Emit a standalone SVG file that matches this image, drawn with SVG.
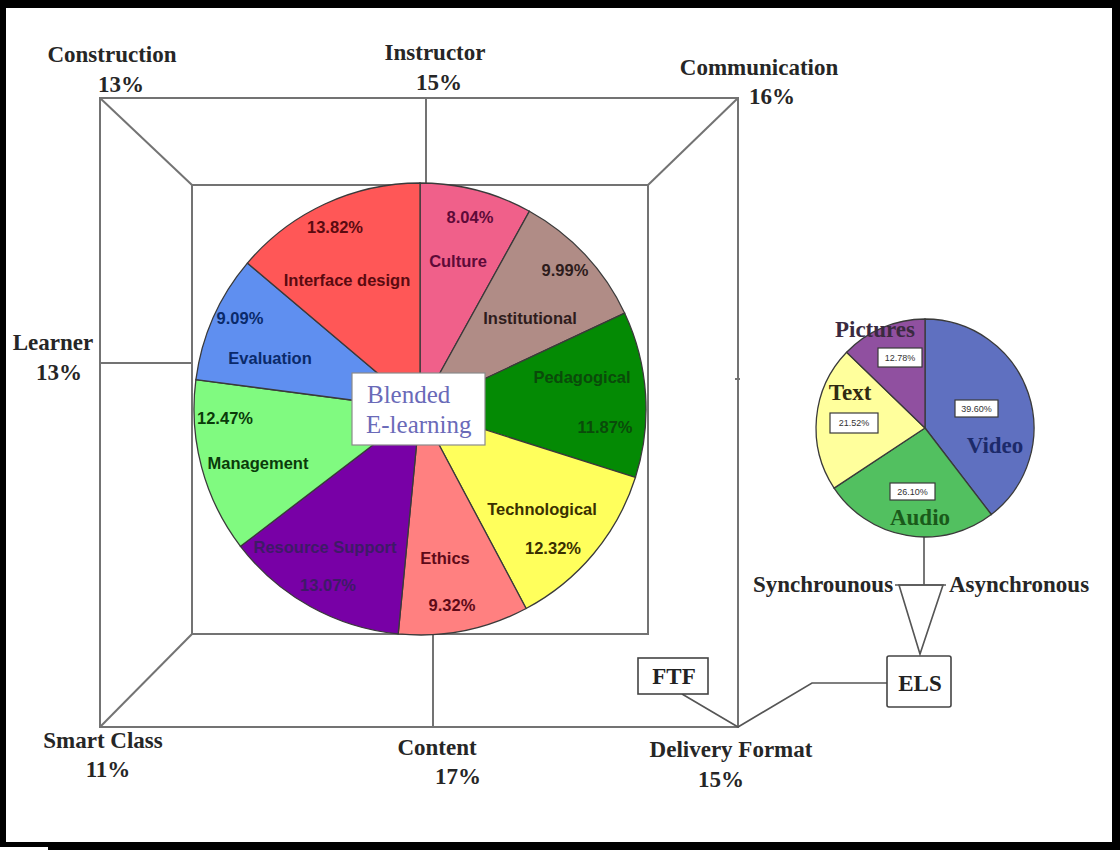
<svg xmlns="http://www.w3.org/2000/svg" width="1120" height="850" viewBox="0 0 1120 850">
  <style>
    .frame { stroke: #737373; stroke-width: 2; fill: none; }
    .conn { stroke: #555; stroke-width: 1.6; fill: none; }
    .outer { font-family: "Liberation Serif", "Times New Roman", serif; font-weight: bold; font-size: 23px; fill: #262626; text-anchor: middle; }
    .slice { stroke: #3a3a3a; stroke-width: 1.3; }
    .plabel { font-family: "Liberation Sans", Arial, sans-serif; font-weight: bold; font-size: 16.5px; text-anchor: middle; }
    .center-text { font-family: "Liberation Serif", "Times New Roman", serif; font-size: 25px; fill: #6a6ab8; }
    .media { font-family: "Liberation Serif", "Times New Roman", serif; font-weight: bold; font-size: 23px; text-anchor: middle; }
    .pct-box { fill: #ffffff; stroke: #3a3a3a; stroke-width: 1.2; }
    .pct { font-family: "Liberation Sans", Arial, sans-serif; font-size: 9px; fill: #333; text-anchor: middle; }
    .box { fill: #ffffff; stroke: #444; stroke-width: 1.6; }
    .boxtext { font-family: "Liberation Serif", "Times New Roman", serif; font-weight: bold; font-size: 23px; fill: #222; text-anchor: middle; }
  </style>

  <!-- black surround and white page -->
  <rect x="0" y="0" width="1120" height="850" fill="#000"/>
  <rect x="6" y="8" width="1106" height="834" fill="#fff"/>
  <rect x="0" y="847" width="48" height="3" fill="#fff"/>

  <!-- connectors: perspective frame and links -->
  <g id="connectors">
    <rect class="frame" x="100" y="98" width="638" height="629"/>
    <rect class="frame" x="192" y="185" width="456" height="449"/>
    <line class="frame" x1="100" y1="98" x2="192" y2="185"/>
    <line class="frame" x1="738" y1="98" x2="648" y2="185"/>
    <line class="frame" x1="100" y1="727" x2="192" y2="634"/>
    <line class="frame" x1="426" y1="98" x2="426" y2="185"/>
    <line class="frame" x1="100" y1="363" x2="192" y2="363"/>
    <line class="frame" x1="433" y1="634" x2="433" y2="727"/>
    <line class="frame" x1="735" y1="379" x2="740" y2="379"/>
    <!-- delivery format links -->
    <polyline class="conn" points="682,694 738,727 812,683 887,683"/>
    <line class="conn" x1="924" y1="537" x2="924" y2="585"/>
    <line class="conn" x1="895" y1="585" x2="946" y2="585"/>
    <polygon class="conn" points="899,585 943,585 920,654"/>
  </g>

  <!-- main pie chart -->
  <g id="pie-main">
    <path class="slice" fill="#f0608a" d="M420,409 L420,183 A226,226 0 0 1 529.4,211.2 Z"/>
    <path class="slice" fill="#b08c86" d="M420,409 L529.4,211.2 A226,226 0 0 1 624.7,313.2 Z"/>
    <path class="slice" fill="#048a04" d="M420,409 L624.7,313.2 A226,226 0 0 1 635.4,477.5 Z"/>
    <path class="slice" fill="#ffff5c" d="M420,409 L635.4,477.5 A226,226 0 0 1 526.1,608.5 Z"/>
    <path class="slice" fill="#ff8080" d="M420,409 L526.1,608.5 A226,226 0 0 1 398.2,633.9 Z"/>
    <path class="slice" fill="#7800a6" d="M420,409 L398.2,633.9 A226,226 0 0 1 240.5,546.3 Z"/>
    <path class="slice" fill="#80fa80" d="M420,409 L240.5,546.3 A226,226 0 0 1 195.9,379.6 Z"/>
    <path class="slice" fill="#5f8ff0" d="M420,409 L195.9,379.6 A226,226 0 0 1 247.4,263.1 Z"/>
    <path class="slice" fill="#ff5757" d="M420,409 L247.4,263.1 A226,226 0 0 1 420,183 Z"/>

    <text class="plabel" x="470" y="223" fill="#5e0a38">8.04%</text>
    <text class="plabel" x="458" y="267" fill="#5e0a38">Culture</text>
    <text class="plabel" x="565" y="276" fill="#2e1c1c">9.99%</text>
    <text class="plabel" x="530" y="324" fill="#2e1c1c">Institutional</text>
    <text class="plabel" x="582" y="383" fill="#0a4a0a">Pedagogical</text>
    <text class="plabel" x="605" y="433" fill="#0a4a0a">11.87%</text>
    <text class="plabel" x="542" y="515" fill="#3a3000">Technological</text>
    <text class="plabel" x="553" y="554" fill="#3a3000">12.32%</text>
    <text class="plabel" x="445" y="564" fill="#5e0a18">Ethics</text>
    <text class="plabel" x="452" y="611" fill="#5e0a18">9.32%</text>
    <text class="plabel" x="325" y="553" fill="#3e1a66">Resource Support</text>
    <text class="plabel" x="328" y="591" fill="#3e1a66">13.07%</text>
    <text class="plabel" x="225" y="424" fill="#0a3a0a">12.47%</text>
    <text class="plabel" x="258" y="469" fill="#0a3a0a">Management</text>
    <text class="plabel" x="240" y="324" fill="#0a2a6a">9.09%</text>
    <text class="plabel" x="270" y="364" fill="#0a2a6a">Evaluation</text>
    <text class="plabel" x="335" y="233" fill="#5a0a10">13.82%</text>
    <text class="plabel" x="347" y="286" fill="#5a0a10">Interface design</text>
  </g>

  <g id="blended-elearning">
    <rect x="352" y="373" width="133" height="72" fill="#fff" stroke="#8a8a8a" stroke-width="1.2"/>
    <text class="center-text" x="367" y="403">Blended</text>
    <text class="center-text" x="366" y="433">E-learning</text>
  </g>

  <!-- outer dimension labels -->
  <g id="construction"><text class="outer" x="112" y="62">Construction</text><text class="outer" x="121" y="92">13%</text></g>
  <g id="instructor"><text class="outer" x="435" y="60">Instructor</text><text class="outer" x="439" y="90">15%</text></g>
  <g id="communication"><text class="outer" x="759" y="75">Communication</text><text class="outer" x="772" y="104">16%</text></g>
  <g id="learner"><text class="outer" x="53" y="350">Learner</text><text class="outer" x="59" y="380">13%</text></g>
  <g id="smart-class"><text class="outer" x="103" y="748">Smart Class</text><text class="outer" x="108" y="777">11%</text></g>
  <g id="content"><text class="outer" x="437" y="755">Content</text><text class="outer" x="458" y="784">17%</text></g>
  <g id="delivery-format"><text class="outer" x="731" y="757">Delivery Format</text><text class="outer" x="721" y="787">15%</text></g>

  <!-- media pie chart -->
  <g id="pie-media">
    <path class="slice" fill="#5f70c0" d="M925,428 L925,319 A109,109 0 0 1 991.3,514.5 Z"/>
    <path class="slice" fill="#52c060" d="M925,428 L991.3,514.5 A109,109 0 0 1 834.1,488.1 Z"/>
    <path class="slice" fill="#ffff9c" d="M925,428 L834.1,488.1 A109,109 0 0 1 846.6,352.3 Z"/>
    <path class="slice" fill="#9050a0" d="M925,428 L846.6,352.3 A109,109 0 0 1 925,319 Z"/>

    <rect class="pct-box" x="878" y="348" width="44" height="19"/>
    <text class="pct" x="900" y="361">12.78%</text>
    <rect class="pct-box" x="955" y="400" width="43" height="17"/>
    <text class="pct" x="976.5" y="412">39.60%</text>
    <rect class="pct-box" x="830" y="413" width="48" height="20"/>
    <text class="pct" x="854" y="426">21.52%</text>
    <rect class="pct-box" x="890" y="483" width="45" height="17"/>
    <text class="pct" x="912.5" y="495">26.10%</text>

    <text class="media" x="875" y="337" fill="#3a2a40">Pictures</text>
    <text class="media" x="850" y="400" fill="#302a10">Text</text>
    <text class="media" x="995" y="453" fill="#1c2a6a">Video</text>
    <text class="media" x="920" y="525" fill="#1a5a1a">Audio</text>
  </g>

  <g id="synchronous"><text class="outer" x="823" y="592" font-size="21">Synchrounous</text></g>
  <g id="asynchronous"><text class="outer" x="1019" y="592" font-size="21">Asynchronous</text></g>

  <g id="ftf">
    <rect class="box" x="638" y="658" width="70" height="36"/>
    <text class="boxtext" x="674" y="684">FTF</text>
  </g>
  <g id="els">
    <rect class="box" x="887" y="656" width="64" height="51" rx="2"/>
    <text class="boxtext" x="920" y="691">ELS</text>
  </g>
</svg>
